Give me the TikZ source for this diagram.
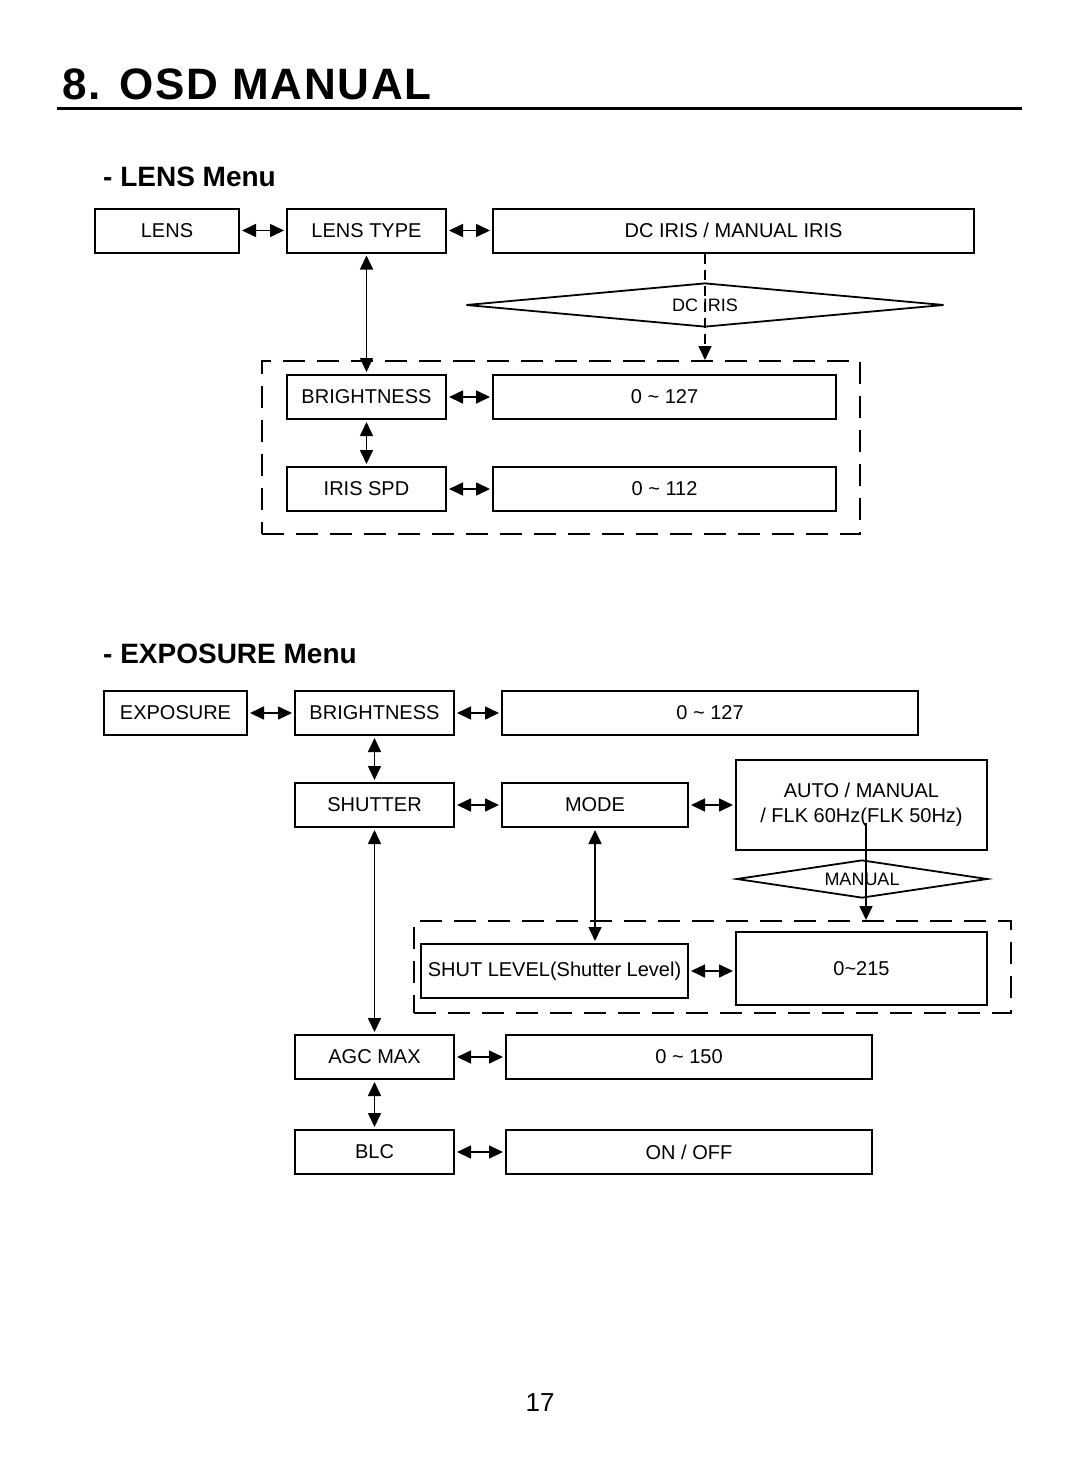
\documentclass[tikz,border=0pt]{standalone}
\usepackage{fontspec}
\setmainfont{Liberation Sans}
\newfontfamily\titlefont{Liberation Sans}[LetterSpace=4]
\usetikzlibrary{arrows.meta, shapes.geometric, positioning}

\tikzset{
  menubox/.style={draw, line width=2pt, minimum height=44pt, inner sep=0pt, font=\fontsize{20}{25}\selectfont},
  cond/.style={draw, diamond, line width=1.8pt, aspect=10, inner sep=0pt, font=\fontsize{18}{22}\selectfont},
  grp/.style={draw, dash pattern=on 22pt off 12pt, line width=2pt, inner sep=0pt},
  link/.style={line width=1.6pt, {Triangle[length=14pt,width=13pt]}-{Triangle[length=14pt,width=13pt]}, shorten <=2pt, shorten >=2pt},
  drop/.style={line width=1.6pt, -{Triangle[length=14pt,width=13pt]}},
}

\begin{document}
\begin{tikzpicture}[x=1pt, y=-1pt]
\useasboundingbox (0,0) rectangle (1080,1482);

% Page heading
\node[anchor=base west, inner sep=0pt, font={\titlefont\bfseries\fontsize{44}{46}\selectfont}] (title) at (62,100) {8. OSD MANUAL};
\draw[line width=3pt] (57,108.5) -- (1022,108.5);

% Lens menu
\node[anchor=base west, inner sep=0pt, font={\bfseries\fontsize{28}{30}\selectfont}] (lenshead) at (103,186) {- LENS Menu};
\node[menubox, minimum width=144pt] (lens) at (167,230.5) {LENS};
\node[menubox, minimum width=159pt] (lenstype) at (366.5,230.5) {LENS TYPE};
\node[menubox, minimum width=481pt] (irissel) at (733.5,230.5) {DC IRIS / MANUAL IRIS};
\node[cond, minimum width=478pt, minimum height=44pt] (dciris) at (705,305) {DC IRIS};
\node[grp, minimum width=598pt, minimum height=173pt] (lensgrp) at (561,447.5) {};
\node[menubox, minimum width=159pt] (lbright) at (366.5,397) {BRIGHTNESS};
\node[menubox, minimum width=343pt] (lbrightval) at (664.5,397) {0 \textasciitilde{} 127};
\node[menubox, minimum width=159pt] (irisspd) at (366.5,489) {IRIS SPD};
\node[menubox, minimum width=343pt] (irisspdval) at (664.5,489) {0 \textasciitilde{} 112};

\draw[link] (lens) -- (lenstype);
\draw[link] (lenstype) -- (irissel);
\draw[link] (lenstype) -- (lbright);
\draw[drop, dash pattern=on 10pt off 6pt] (irissel.south -| dciris.north) -- (lensgrp.north -| dciris.north);
\draw[link] (lbright) -- (lbrightval);
\draw[link] (lbright) -- (irisspd);
\draw[link] (irisspd) -- (irisspdval);

% Exposure menu
\node[anchor=base west, inner sep=0pt, font={\bfseries\fontsize{28}{30}\selectfont}] (exphead) at (103,663) {- EXPOSURE Menu};
\node[menubox, minimum width=143pt] (expo) at (175.5,713) {EXPOSURE};
\node[menubox, minimum width=159pt] (ebright) at (374.5,713) {BRIGHTNESS};
\node[menubox, minimum width=416pt] (ebrightval) at (710,713) {0 \textasciitilde{} 127};
\node[menubox, minimum width=159pt] (shutter) at (374.5,805) {SHUTTER};
\node[menubox, minimum width=186pt] (mode) at (595,805) {MODE};
\node[menubox, minimum width=251pt, minimum height=90pt, align=center] (modeval) at (861.5,805) {AUTO / MANUAL\\/ FLK 60Hz(FLK 50Hz)};
\node[cond, minimum width=251pt, minimum height=38pt] (manual) at (862,879) {MANUAL};
\node[grp, minimum width=597pt, minimum height=92pt] (expgrp) at (712.5,967) {};
\node[menubox, minimum width=267pt, minimum height=54pt] (shutlvl) at (554.5,971) {SHUT LEVEL(Shutter Level)};
\node[menubox, minimum width=251pt, minimum height=73pt] (shutval) at (861.5,968.5) {0\textasciitilde{}215};
\node[menubox, minimum width=159pt] (agc) at (374.5,1057) {AGC MAX};
\node[menubox, minimum width=366pt] (agcval) at (689,1057) {0 \textasciitilde{} 150};
\node[menubox, minimum width=159pt] (blc) at (374.5,1152) {BLC};
\node[menubox, minimum width=366pt] (blcval) at (689,1152) {ON / OFF};
\coordinate (mantop) at (866,823);

\draw[link] (expo) -- (ebright);
\draw[link] (ebright) -- (ebrightval);
\draw[link] (ebright) -- (shutter);
\draw[link] (shutter) -- (mode);
\draw[link] (mode) -- (modeval);
\draw[drop] (mantop) -- (expgrp.north -| mantop);
\draw[link] (mode.south) -- (mode.south |- shutlvl.north);
\draw[link] (shutlvl.east) -- (shutlvl.east -| shutval.west);
\draw[link] (shutter) -- (agc);
\draw[link] (agc) -- (agcval);
\draw[link] (agc) -- (blc);
\draw[link] (blc) -- (blcval);

% Page number
\node[anchor=base, inner sep=0pt, font=\fontsize{26}{28}\selectfont] (pageno) at (540,1411) {17};
\end{tikzpicture}
\end{document}
